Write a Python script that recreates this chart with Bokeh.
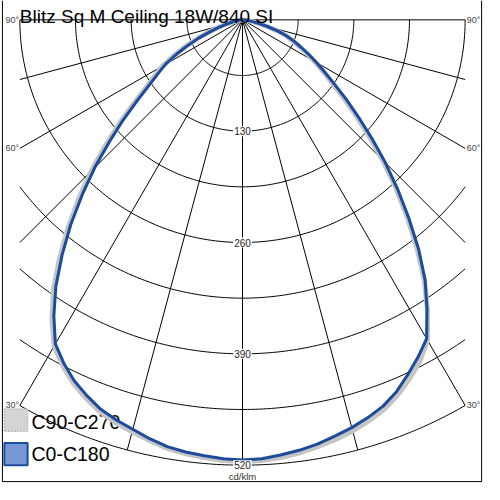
import numpy as np
from bokeh.plotting import figure
from bokeh.models import Range1d
from bokeh.embed import file_html
from bokeh.resources import INLINE
from bokeh.core.properties import value

# ---------------- data ----------------
chart_title = "Blitz Sq M Ceiling 18W/840 SI"
unit_label = "cd/klm"
series_names = ["C90-C270", "C0-C180"]

gamma = [0, 2.5, 5, 7.5, 10, 12.5, 15, 17.5, 20, 22.5, 25, 27.5, 30, 32.5, 35, 37.5, 40, 42.5, 45,
         47.5, 50, 52.5, 55, 57.5, 60, 62.5, 65, 67.5, 70, 72.5, 75, 77.5, 80, 82.5, 85, 87.5, 90]
# C0-C180 plane (blue): right half = C0, left half = C180
c0 = [514, 513, 510, 507, 503, 498, 493, 487, 480, 470, 457, 444, 430, 401, 372, 338, 302, 268, 236,
      205, 177, 153, 131, 114, 100, 87, 75, 65, 55, 43, 30, 20, 12, 6, 3, 1, 0]
c180 = [514, 513, 511, 509, 506, 501, 495, 490, 484, 475, 465, 452, 437, 410, 380, 346, 312, 277, 244,
        211, 182, 155, 133, 117, 104, 87, 70, 55, 40, 29, 20, 13, 8, 4, 2, 1, 0]
# C90-C270 plane (grey): right half = C90, left half = C270
c90 = [516, 515, 513, 510, 506, 502, 497, 491, 484, 474, 462, 449, 432, 402, 370, 334, 298, 264, 231,
       200, 172, 148, 127, 111, 97, 85, 73, 63, 54, 42, 30, 20, 12, 6, 3, 1, 0]
c270 = [516, 515, 513, 511, 508, 503, 498, 493, 487, 478, 468, 455, 440, 414, 385, 351, 317, 283, 250,
        217, 187, 160, 137, 121, 108, 90, 73, 57, 42, 31, 21, 14, 8, 4, 2, 1, 0]

ring_values = [65, 130, 195, 260, 325, 390, 455, 520]
ring_labels = [130, 260, 390, 520]
spoke_angles = [-90, -75, -60, -45, -30, -15, 0, 15, 30, 45, 60, 75, 90]
angle_labels = [90, 60, 30]

# ---------------- geometry helpers ----------------
R_MAX = 520.0
HALF_W = 260.0
S = 115.0 / 130.0  # reference px per cd/klm


def ref(xp, yp):
    """reference-image pixel position -> data coordinates (decor only)"""
    return (xp - 250.0) / S, (20.0 - yp) / S


def polar_curve(left_vals, right_vals):
    g = np.radians(np.array(gamma, dtype=float))
    lv = np.array(left_vals, dtype=float)
    rv = np.array(right_vals, dtype=float)
    xl = -lv * np.sin(g)
    yl = -lv * np.cos(g)
    xr = rv * np.sin(g)
    yr = -rv * np.cos(g)
    xs = np.concatenate([xl[::-1], xr[1:]])
    ys = np.concatenate([yl[::-1], yr[1:]])
    return xs, ys


p = figure(width=484, height=484, output_backend="svg", toolbar_location=None,
           x_range=Range1d(-282.6, 282.6), y_range=Range1d(-542.6, 22.6),
           min_border=0, background_fill_color="white", border_fill_color="white")
p.xaxis.visible = False
p.yaxis.visible = False
p.grid.visible = False
p.outline_line_color = None

# rings (clipped to the square box)
rx, ry = [], []
for r in ring_values:
    lim = np.degrees(np.arcsin(min(1.0, HALF_W / r)))
    t = np.radians(np.linspace(-lim, lim, 181))
    rx.append(list(r * np.sin(t)))
    ry.append(list(-r * np.cos(t)))
p.multi_line(rx, ry, line_color="black", line_width=1)

# spokes
sx, sy = [], []
for a in spoke_angles:
    t = np.radians(a)
    st = abs(np.sin(t))
    L = R_MAX if st < 1e-9 else min(R_MAX, HALF_W / st)
    sx.append([0.0, L * np.sin(t)])
    sy.append([0.0, -L * np.cos(t)])
p.multi_line(sx, sy, line_color="black", line_width=1)

# angle labels
ly, ltxt = [], []
for a in angle_labels:
    t = np.radians(a)
    L = min(R_MAX, HALF_W / np.sin(t))
    ly.append(-L * np.cos(t))
    ltxt.append(f"{a}°")
p.text(x=[-HALF_W - 1] * len(ly), y=ly, text=ltxt, text_align="right", text_baseline="middle",
       text_font=value("Liberation Sans"), text_font_size="9px", text_color="#444444")
p.text(x=[HALF_W + 2] * len(ly), y=ly, text=ltxt, text_align="left", text_baseline="middle",
       text_font=value("Liberation Sans"), text_font_size="9px", text_color="#444444")

# legend (drawn beneath the curves, as in the reference)
gl, gt = ref(4, 422)
gr, gb = ref(28, 445)
p.quad(left=[gl], right=[gr], top=[gt], bottom=[gb], fill_color="#d4d4d4",
       line_color="#bdbdbd", line_dash="2 1", line_width=1.5)
bl, bt = ref(4, 457)
br, bb = ref(28, 480)
p.quad(left=[bl], right=[br], top=[bt], bottom=[bb], fill_color="#7699d6",
       line_color="#1c4b9c", line_width=2)
lx1, ly1 = ref(32, 435)
lx2, ly2 = ref(32, 469)
p.text(x=[lx1, lx2], y=[ly1, ly2], text=series_names, text_align="left", text_baseline="middle",
       text_font=value("Liberation Sans"), text_font_size="19.5px", text_color="black")

# curves
gx, gy = polar_curve(c270, c90)
p.line(gx, gy, line_color="#c4c4c4", line_width=5, line_join="round")
bx, by = polar_curve(c180, c0)
p.line(bx, by, line_color="#1c4b9c", line_width=3, line_join="round")

# ring value labels
p.text(x=[0] * len(ring_labels), y=[-v for v in ring_labels], text=[str(v) for v in ring_labels],
       text_align="center", text_baseline="middle", text_font=value("Liberation Sans"),
       text_font_size="10px", text_color="#222222",
       background_fill_color="white", padding=1)

# unit label
ux, uy = ref(250, 492)
p.text(x=[ux], y=[uy], text=[unit_label], text_align="center", text_baseline="middle",
       text_font=value("Liberation Sans"), text_font_size="9.5px", text_color="#333333")

# title
tx, ty = ref(20, 17)
p.text(x=[tx], y=[ty], text=[chart_title], text_align="left", text_baseline="alphabetic",
       text_font=value("Liberation Sans"), text_font_size="19px", text_color="black")

# picture border (left, right, bottom)
xl_, _ = ref(2, 0)
xr_, _ = ref(497, 0)
_, yt_ = ref(0, 0)
_, yb_ = ref(0, 497)
p.multi_line([[xl_, xl_, xr_, xr_]], [[yt_, yb_, yb_, yt_]], line_color="black", line_width=1)

open("out.html", "w").write(file_html(p, INLINE))
